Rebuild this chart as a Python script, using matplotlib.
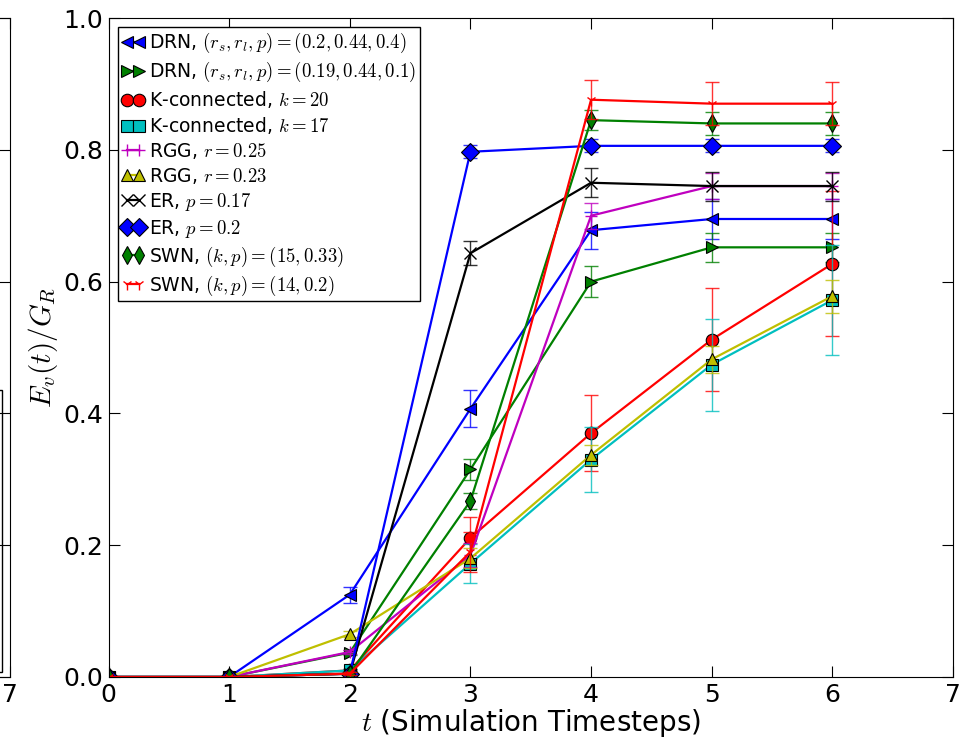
import numpy as np
import matplotlib
matplotlib.use("Agg")
import matplotlib.pyplot as plt
from matplotlib.patches import Rectangle

plt.rcParams['mathtext.fontset'] = 'cm'
plt.rcParams['font.family'] = ['DejaVu Sans']

# ---------- data ----------
t = [0, 1, 2, 3, 4, 5, 6]

labels = [
    r'DRN, $(r_s,r_l,p)=(0.2,0.44,0.4)$',
    r'DRN, $(r_s,r_l,p)=(0.19,0.44,0.1)$',
    r'K-connected, $k=20$',
    r'K-connected, $k=17$',
    r'RGG, $r=0.25$',
    r'RGG, $r=0.23$',
    r'ER, $p=0.17$',
    r'ER, $p=0.2$',
    r'SWN, $(k,p)=(15,0.33)$',
    r'SWN, $(k,p)=(14,0.2)$',
]

drn_a     = [0, 0, 0.125, 0.407, 0.678, 0.695, 0.695]
drn_a_err = [0, 0, 0.012, 0.028, 0.028, 0.030, 0.030]
drn_b     = [0, 0, 0.037, 0.315, 0.600, 0.652, 0.652]
drn_b_err = [0, 0, 0.004, 0.016, 0.024, 0.022, 0.022]
kc20      = [0, 0, 0.010, 0.211, 0.370, 0.512, 0.627]
kc20_err  = [0, 0, 0.002, 0.032, 0.058, 0.078, 0.110]
kc17      = [0, 0, 0.010, 0.172, 0.330, 0.474, 0.572]
kc17_err  = [0, 0, 0.002, 0.030, 0.050, 0.070, 0.083]
rgg25     = [0, 0, 0.038, 0.185, 0.700, 0.745, 0.745]
rgg25_err = [0, 0, 0.003, 0.018, 0.020, 0.020, 0.020]
rgg23     = [0, 0, 0.065, 0.180, 0.337, 0.482, 0.578]
rgg23_err = [0, 0, 0.005, 0.015, 0.015, 0.020, 0.025]
er17      = [0, 0, 0.005, 0.643, 0.750, 0.745, 0.745]
er17_err  = [0, 0, 0.002, 0.018, 0.022, 0.022, 0.022]
er20      = [0, 0, 0.005, 0.797, 0.806, 0.806, 0.806]
er20_err  = [0, 0, 0.002, 0.010, 0.010, 0.010, 0.010]
swn15     = [0, 0, 0.005, 0.267, 0.845, 0.840, 0.840]
swn15_err = [0, 0, 0.002, 0.012, 0.015, 0.018, 0.018]
swn14     = [0, 0, 0.005, 0.190, 0.876, 0.870, 0.870]
swn14_err = [0, 0, 0.002, 0.030, 0.030, 0.033, 0.033]

series = [drn_a, drn_b, kc20, kc17, rgg25, rgg23, er17, er20, swn15, swn14]
errors = [drn_a_err, drn_b_err, kc20_err, kc17_err, rgg25_err, rgg23_err,
          er17_err, er20_err, swn15_err, swn14_err]

# classic matplotlib colours
B, G, R = (0, 0, 1), (0, 0.5, 0), (1, 0, 0)
C, M, Y, K = (0, 0.75, 0.75), (0.75, 0, 0.75), (0.75, 0.75, 0), (0, 0, 0)
colors  = [B, G, R, C, M, Y, K, B, G, R]
markers = ['<', '>', 'o', 's', '+', '^', 'x', 'D', 'd', '1']
msizes  = [9, 9, 9, 8, 8, 9, 8, 9, 9, 8]

W, H = 963, 742
fig = plt.figure(figsize=(W / 100, H / 100), dpi=100)

x0, x1, y0, y1 = 108.5, 953, 18, 677
ax = fig.add_axes([x0 / W, 1 - y1 / H, (x1 - x0) / W, (y1 - y0) / H])

# neighbouring panel, only its right edge is in the picture
axl = fig.add_axes([10 / W - (x1 - x0) / W, 1 - y1 / H, (x1 - x0) / W, (y1 - y0) / H])
axl.set_xlim(0, 7)
axl.set_ylim(0, 1)
axl.tick_params(direction='in', length=8, labelsize=18, right=True, top=True,
                labelleft=False, pad=4)
axl.set_xticks([7])
fig.patches.append(Rectangle((-0.05, 1 - 672 / H), 0.052, (672 - 390) / H,
                             transform=fig.transFigure, fill=False,
                             edgecolor='black', linewidth=1))

for y, e, c, m, ms, lab in zip(series, errors, colors, markers, msizes, labels):
    ax.errorbar(t, y, yerr=e, fmt='none', ecolor=c, elinewidth=1,
                capsize=5, capthick=1, alpha=0.8)
    thin = m in ['+', 'x', '1']
    ax.plot(t, y, color=c, marker=m, markersize=ms, markerfacecolor=c,
            markeredgecolor=c if thin else 'black',
            markeredgewidth=1.0 if thin else 0.8, linewidth=1.6, label=lab)

ax.set_xlim(0, 7)
ax.set_ylim(0, 1.0)
ax.set_xticks(range(0, 8))
ax.set_yticks([0.0, 0.2, 0.4, 0.6, 0.8, 1.0])
ax.tick_params(direction='in', length=8, labelsize=18, right=True, top=True, pad=4)
ax.set_xlabel(r'$t$ (Simulation Timesteps)', fontsize=20, labelpad=0)
ax.set_ylabel(r'$E_v(t)/G_R$', fontsize=21, labelpad=2)

leg = ax.legend(loc='upper left', numpoints=2, fontsize=13.5, handlelength=1.25,
                handletextpad=0.2, labelspacing=0.26, borderaxespad=0.5,
                borderpad=0.2, fancybox=False, framealpha=1)
leg.get_frame().set_edgecolor('black')
leg.get_frame().set_linewidth(1)

fig.savefig('out.png', dpi=100)
